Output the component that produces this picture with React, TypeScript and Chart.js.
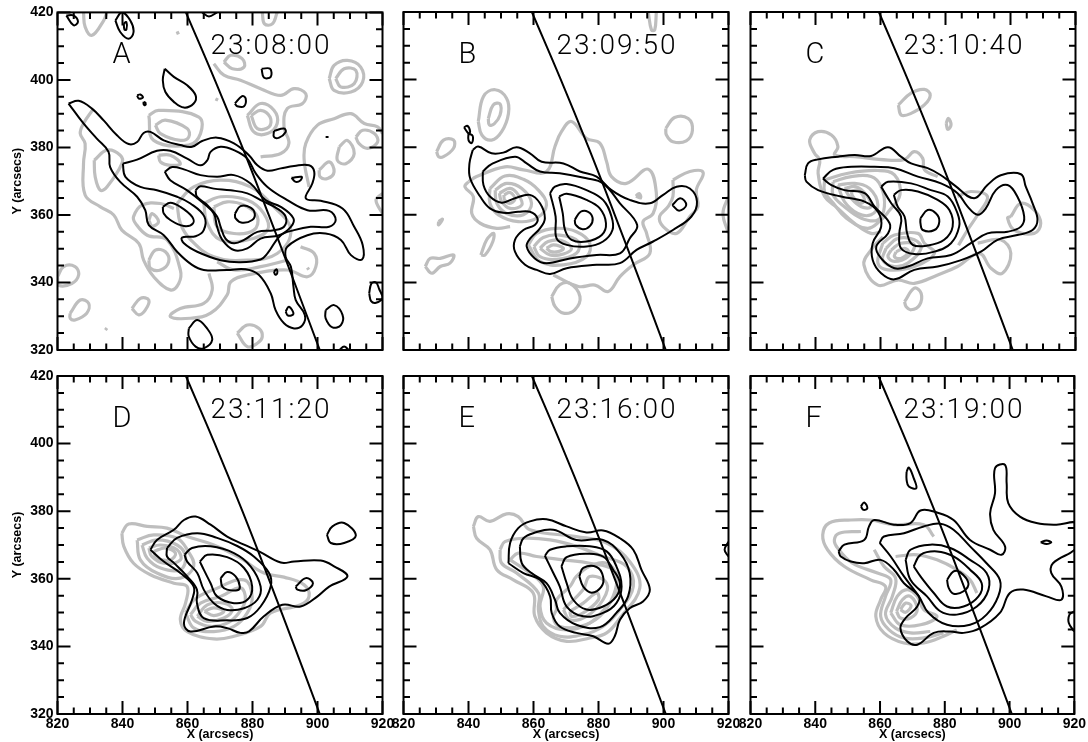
import React, { useEffect, useRef } from "react";
import { Chart, registerables } from "chart.js";

Chart.register(...registerables);

const panelLabels = ["A", "B", "C", "D", "E", "F"];
const panelTimes = ["23:08:00", "23:09:50", "23:10:40", "23:11:20", "23:16:00", "23:19:00"];
const yTickLabels = [320, 340, 360, 380, 400, 420];
const xTickLabels = [820, 840, 860, 880, 900, 920];
const limb = [859.5,420, 868.4,400, 876.9,380, 885,360, 892.9,340, 900.7,320];

const blackA: number[][] = [
  [823.4,393,826.5,393.8,830.6,391.5,834.2,388,838.3,383.6,841.9,381,844.5,381.6,846.5,384.3,848.6,384.6,852.7,382.1,857.8,380.7,861.4,380.2,864.5,381.9,869.1,382.9,874.3,381.2,878.9,377.7,881.5,374.7,884.6,373.1,888.7,373.8,892.8,374.5,897.4,374.7,899,372.8,898.4,369.3,896.4,364.9,901,364.2,907.7,361.9,911.3,356.5,913.9,351.1,913.7,346.8,910.3,348.1,907.2,352.6,902.5,354.5,896.9,354,890.7,350.6,890.2,347.6,891.8,344.7,892.6,338.8,893.3,334.8,896.1,330.4,895.4,327.4,892.8,326.4,889.7,327.9,887.1,331.8,885.6,336.8,882,342.2,877.9,343.9,872.2,343.7,865,343.7,861.4,345.2,856.8,349.1,852.7,354,848.1,357,847,361.4,844.5,365.4,839.3,369.8,836.2,374.2,835.7,378.7,832.1,382.6,828,387.1],
  [840.1,375.2,844.5,376.4,850.6,379,854.7,379,859.9,376.7,864,374.7,866.1,376.2,867.1,378.7,870.2,380.2,874.3,379.2,878.4,376.7,881,372.3,884.6,368.3,890.7,364.4,896.9,361.4,903.6,361.2,905.6,358.5,903.6,356.5,897.9,356.5,892.8,355.5,888.7,354,884.6,348.6,882.5,346.8,876.3,346,870.2,346.6,863,349.1,858.9,351.6,858.3,353.3,862.5,353.7,865,355.5,865.2,359.5,860.9,363.4,856.8,365.4,850.6,367.3,845.5,368.3,840.9,371.3],
  [853,372.8,855.3,374.2,858.9,373.5,864,371.8,869.1,371.3,874.3,371.8,879.4,369.3,884,364.4,888.7,362.4,892.6,359,891.8,356.5,888.2,354,882.5,353,878.4,350.1,874.3,349.6,870.7,352.6,869.1,356.5,868.1,360.4,865,363.4,859.9,367.3,854.7,370.3],
  [862.5,367.3,864,368.5,868.1,367.8,873.3,367.3,878.4,366.4,882.5,364.4,887.6,361.9,890.2,359.5,889.7,356.5,886.6,355.5,881.5,355,877.4,352.6,874.3,351.6,871.7,353,870.2,356.5,869.1,359.5,866.1,362.9,862.9,365.4],
  [874.6,360.4,876.3,362.6,879.4,362.2,880.7,360.4,879.9,358.5,876.8,357.7,874.8,359],
  [852.4,362.4,854.7,363.6,857.8,362.4,861.4,359.5,861.7,357.5,858.9,356.7,854.7,358.5,852.7,360.4],
  [853,403.3,855.8,400.9,859.9,398.4,862.5,395.4,861.9,393,858.9,391.8,855.8,393.5,853.2,396.4,852.4,399.9],
  [882.8,403.3,885.4,403.3,885.6,400.9,883.5,400.7],
  [874.6,393,876.8,395.2,877.9,394.5,877.4,392.2,875.3,392.2],
  [886.6,384.9,889.7,385.6,890.2,384.6,888.2,382.9,886.6,383.1],
  [892,371,895.1,371.3,894.8,370.3,893.3,369.8],
  [886.6,343.2,887.4,343.9,887.6,342.7,887,342.3],
  [890.2,331.4,891.2,332.8,892.6,330.7,890.9,330.2],
  [902.5,331.8,905.1,333.3,907.7,330.4,907.2,327.4,904.6,326.7,902.5,329.4],
  [915.9,336.8,916.6,339.7,918,340,919,338,920,335.5,918,334,916.5,334.5],
  [860.4,326.4,863,328.9,866,326.4,867.6,323,865,320.5,862.5,321,860.4,324],
  [837.8,417.6,839.8,420,842.4,417.6,843.4,414.2,841.9,412.2,839.3,414.2],
  [840.4,416.8,841.2,417.1,841.2,414.9,840.6,414.9],
  [822.7,419.1,824.9,419.1,826.3,417.2,824.9,416.2],
  [844.5,395.4,845.5,395.7,846.3,394.8,845,394.5],
  [846.5,393.5,847.1,393.2,846.9,392.5,846.5,392.8],
];
const blackOpenA: number[][] = [
  [864.5,420,866.6,418.8,869.1,420],
  [906.7,320,908.2,321,909.7,320],
  [902.5,383.1,903.4,383.1],
];
const grayA: number[][] = [
  [848.1,358.5,849.1,360.4,851.1,358,849.1,356.7],
  [848.1,346.6,850.1,349.6,853.2,349.1,854.2,346.1,851.7,343.7,848.6,344.2],
  [831.3,376.2,835.2,379.2,839.3,377.7,839.8,375.2,835.2,368.3,833.2,367.3,831.6,371.3],
  [851.1,377.7,854.7,377.7,857.8,375.2,854.7,374.7,851.7,375.7],
  [848.1,389.5,851.1,391,863.5,389,864,384.1,860.4,380.7,849.6,382.1],
  [850.1,386.6,853.2,388.1,859.9,385.6,860.4,383.1,857.8,382.1,851.7,384.1],
  [820,341.7,821.9,344.7,825.4,344.7,826.5,342.2,824.4,339.7,820.3,339.2],
  [823.9,330.9,827,334.8,829.6,333.8,829,330.9,825.4,328.9,823.9,329.4],
  [842.9,332.3,845.5,335.3,848.1,334.8,847,331.8,845,330.4],
  [834.7,325.9,835.2,326.5],
  [856.8,414.4,857.2,413.5],
  [868.6,394.4,869.4,394],
  [896.9,344.4,897.3,343.8],
  [875.3,325,878.4,327.4,882,326.4,883,323.9,881.5,322,878.4,321],
  [903.6,400.4,905.1,404.3,909.2,405.8,913.3,403.8,913.9,399.4,910.3,396.4,905.1,396.9],
  [905.6,400.4,908.2,403.3,911.8,402.8,911.3,398.9,907.2,397.9],
  [878.4,389.5,882.5,393,886.6,391,887.6,387.1,884.6,384.1,880.4,384.6],
  [879.6,389.5,882.5,391,885.4,389,885.1,386.1,881.5,385.6],
  [871.2,405.3,873.3,407.3,876.8,406.3,877.4,403.8,873.8,403.3],
  [911.8,383.1,913.9,385.1,917.5,384.1,918.5,381.6,915.4,379.7,912.8,381.1],
  [906.7,380.2,909.2,382.1,911.3,378.2,908.7,375.2,906.1,376.2],
  [900.5,373.3,903.6,375.7,905.1,372.8,903.1,370.8,900.8,371.3],
  [856.8,363.4,861.9,368.3,870.2,370.3,879.4,368.3,886.6,362.4,891.8,355.5,887.6,348.6,878.4,346.6,868.1,347.6,861,352.6,857.8,357.5],
  [865,363.4,870.2,365.4,878.4,364.4,883.5,360.4,884.6,355.5,878.4,352.6,870.2,352.6,866.1,357.5],
  [868.1,362.4,872.2,363.9,877.4,362.9,881.5,359.5,880.4,355.5,874.3,354.5,869.1,356.5],
];
const grayOpenA: number[][] = [
  [831.1,391.5,828,387.1,827,384.1,828.5,381.1,828,375.2,828.5,365.9,833.2,362.4,837.3,360,839.8,355.5,845,351.6,846.5,346.6,849.6,341.7,854.7,337.8,857.3,339.7,857.8,343.7,853.7,352.6,847.6,354,844,357.5,843.4,359.5,846,362.9,851.7,363.4,855.8,361.9],
  [866.6,342.7,867.6,337.8,865,333.8,857.8,332.3,854.7,329.9,860.9,329.4,867.1,330.9,872.2,336.3,873.3,340.2,878.4,342.2,890.7,343.7,896.9,341.7,899.5,344.7,899,348.6,894.8,350.6],
  [828,420,828.5,415.7,830.6,413.2,834.2,417.6,835.2,420],
  [883,420,883.7,416.6,886.1,416.6,887.6,420],
  [868.1,404.8,871.2,401.4,876.3,399.9,882.5,397.4,888.7,395.4,892.8,397.4,896.4,395.9,895.4,393,890.7,391.5,889.7,386.1,891.2,381.2,888.7,378.2,882.5,377.2],
  [897.4,368.3,895.9,376.2,896.4,381.2,900,386.6,905.1,388.5,910.3,390,914.4,387.1,918.5,386.1,920,384.1],
  [920,366.4,918,364.4,920,360.4],
  [869.1,346.1,874.3,343.7,882.5,344.7,890.7,346.6],
];

const blackB: number[][] = [
  [841.3,379.2,843,380.2,847.1,378.2,850.7,378.4,854.8,380,858.9,378.2,862.5,375.7,869.2,375.2,874.3,372.8,879.4,371.3,884,367.3,889.6,364.4,895.8,363.4,899.9,365.9,904,368.3,908.1,367.8,910.3,363.9,908.6,359.5,902.9,355.5,896.8,352.1,891.7,349.6,886.6,345.7,879.4,345.2,870.2,344.2,865.1,342.5,861,343.7,857.4,345.2,854.3,349.1,854.3,352.6,856.9,355.5,860.4,357,861.2,359,858.9,360.9,855.3,360.9,850.7,360.6,846.6,361.9,843.6,365.4,840.5,370.8,840.3,375.2],
  [844.4,372.8,847.1,375,854.3,377.2,857.9,375.2,862,372.8,868.1,372.3,876.3,370.8,881.4,369.3,886.6,363.4,891.9,357,889.6,353,886.6,348.6,879.4,348.1,871.2,347.1,864,345.7,860.4,347.1,857.9,350.6,859,353,862,356,863.5,359,862,363.4,858.9,365.9,854.3,364.9,850.2,363.6,846.6,365.4,844.6,368.8],
  [865.1,366.4,866.6,368.3,870.2,369.1,876.3,367.3,881.4,364.4,884,359.5,884.3,355.5,881.4,352.1,876.3,350.6,870.2,351.1,867.1,353,866.8,359.5],
  [867.9,365.4,870.2,366.2,876.3,364.4,880.4,361.9,882.3,357.5,881,354,876.3,352.1,871.7,352.6,869.7,355.5,869,360.4],
  [872.7,358.5,874.5,360.9,876.8,360.9,878.2,359,877.4,356.7,875.1,355.7,873,357],
  [902.7,362.9,905.2,364.9,907,362.9,904.8,361.2],
  [838.6,385.9,839.7,386.3,840.5,384.6,840,384.1],
  [840,384.1,841.3,383.3,841,381.2,840,382.1],
];
const grayB: number[][] = [
  [843,387.6,844.6,395,848.2,397,851.7,394.5,852.3,390,850.2,384.6,847.1,382.1,844.1,383.6],
  [846.1,388.5,847.6,392.5,849.7,392.8,849.7,389.5,847.9,386.9,846.4,386.6],
  [830.2,378.7,832.3,382.1,835.4,382.1,835.4,379.7,832.3,377.2,830.8,377.2],
  [900.7,385.6,903.4,388.8,907.6,388.5,908.9,385,907,381.9,902.9,381.6,900.9,383.6],
  [830.8,358,832,358.7,830.8,357],
  [826.7,344.7,828.2,347.1,831.3,347.1,835.4,348.1,834.3,345.7,831.3,344.7,828.7,342.7],
  [843.8,348.1,845.6,352.6,847.7,354.5,847.5,352.1,845.1,348.1],
  [865.6,335.8,868.1,339.3,871.2,339.7,874.3,335.8,872.7,331.9,869.2,330.9,866.6,332.9],
  [846.6,367.8,851.2,371.5,856.9,370.5,861.5,367.3,864,362.9,861,359,855.3,358,849.2,360,846.6,363.4],
  [848.2,367.3,851.7,369.3,856.4,367.8,859.4,363.4,856.9,360,851.7,360.4,848.7,363.4],
  [849.5,366.4,852.8,367.8,855.3,365.9,856.4,362.9,852.8,361.9,850.2,363.9],
  [850.9,365.9,852.8,366.6,854.3,364.6,852.6,363.4,851.1,364.4],
  [858.4,351.1,861,354.5,867.1,356,873.2,355,877.3,351.6,876.3,347.6,869.2,345.2,862,346.2],
  [860.1,350.6,863,353.3,868.1,354,873.8,352.1,873.2,348.6,867.1,346.8,862,347.6],
  [862,350.1,864.5,352.1,868.6,352.4,871.7,350.1,869.2,348.4,865.1,348.1],
  [864,350.1,866.1,351.1,869.2,350.1,867.6,349.1,865.3,349.1],
  [902.9,370.3,908.1,372.8,912.2,372.5,910.1,367.3,910.6,362.4,908.1,359.5,904,354.5,899.9,356.5,898.8,359.5,901.4,362.4,902.9,365.4],
  [891.5,365.5,892.5,366.3,893,365],
];
const grayOpenB: number[][] = [
  [895.3,420,896.3,414.7,897.3,414.7,897.8,420],
  [920,365.4,918.3,360.4,920,354.5],
  [840,369.8,842.5,371.3,851.2,374.2,856.9,373.3,864,372.8,866.6,380.2,868.6,384.6,871.7,387.6,876.3,382.6,880.4,381.2,882.5,375.7,884,371.3,888.6,369.3,895.3,373.5,897.8,366.4,896.8,360.4,893.7,358,894.8,354.5,895.8,348.6,890.7,345.2,886.6,341.7,883,337.3,878.9,339.2,873.8,338.8,866.1,342.2],
  [852.8,356.5,848.7,356,843.6,357.5,841,360.4,841.5,365.4,838.9,368.3,840,369.8],
];

const blackC: number[][] = [
  [836.7,371.7,837.7,375.2,840.8,376.4,846.9,377.2,852,377.7,857.1,377.4,862.3,380,866.3,377.2,869.4,375.2,874.5,373.8,878.6,371.7,882.7,368.8,888.8,364.9,892.9,368.8,897,371.7,903.2,372,904.7,368.3,906.8,363.4,908.3,358.5,906.8,355.5,902.1,354,896,352.6,890.9,349.1,884.8,346.6,877.6,344.7,870.4,343.7,864.3,340.9,860.2,342.7,857.6,346.6,857.6,351.6,860.2,356.5,859.2,360.9,855.1,363.9,847.9,365.4,840.8,367.3,837.2,369.8],
  [842.3,370.7,845.4,373.3,851,374.2,858.2,374.2,864.3,373.8,871.5,371.3,878.6,369.3,883.7,366.4,886.8,362.4,889.9,360,892.4,361.9,895.5,367.3,899.1,368.8,902.1,365.4,904.2,359.5,903.2,356.5,899.1,355,892.9,354.5,887.8,351.6,881.7,348.1,874.5,347.1,868.4,344.7,864.3,344.2,860.2,347.1,858.7,350.6,862.3,354.5,862.8,357.5,858.2,362.4,855.1,366.4,848.9,367.3,844.9,368.8],
  [860.2,368.3,862.3,369.8,869.4,369.3,875.5,367.3,880.7,365.4,883.7,360.4,884.2,356.5,881.7,351.6,876.6,349.1,870.4,348.4,866.3,350.1,865.8,354.5,866.3,359.5,863.3,363.4],
  [864.1,365.9,866.3,367.3,871.5,366.9,877.6,364.4,881.2,361.4,882.2,356.5,879.6,352.6,874.5,350.9,869.9,351.1,868.2,354.5,867.4,359.5,865.3,362.4],
  [872.3,359,874.5,361.4,877.1,360.4,878.1,358,876.6,355.5,873,355.5,872.3,357.5],
];
const grayC: number[][] = [
  [865.5,392.5,869.4,396,873.5,397.1,875.3,395.4,873.5,392.5,869.4,390,866.4,389.5],
  [880.2,387.1,880.9,388.5,881.7,386.6,880.7,385.3],
  [842.8,370.3,850,372.3,859.2,373.1,864.3,371.8,866,366,862.5,361,860.2,358.5,856,356,849.5,359,845.5,363.4,842.8,366.9],
  [845.4,369.8,851,371.3,857.1,371.3,860.2,368.3,861.2,362.4,859.2,358.5,854.1,359,848.9,362.4,845.4,365.9],
  [846.9,368.8,852,369.3,856.6,367.8,859.2,362.9,857.1,360,853,360.4,848.9,363.9],
  [848.9,367.8,852.5,368.3,855.6,365.9,857.1,362.4,854.1,362.4,850.5,365.4],
  [851,366.9,853,367.3,855.1,364.4,853.6,363.4,851.5,365.4],
  [860.7,351.6,864.3,354,871.5,354.5,873.5,351.6,876.6,348.6,870.4,344.7,862.3,343.7,859.2,345.7],
  [861.7,350.1,865.3,353,870.4,352.6,872.5,350.1,868.4,345.7,864.3,344.7,860.7,346.6],
  [863.3,349.6,866.3,351.6,870.4,351.1,868.4,347.6,864.3,346.2,862.3,347.6],
  [864.8,349.1,867.4,350.1,868.6,349.1,866.3,347.1,864.3,347.6],
  [900.1,359.5,903.2,363.4,907.3,361.4,909.3,357.5,907.3,354.5,901.1,355.5,899.1,359],
  [867.4,334.3,870.4,338.3,872.5,336.8,872,333.3,869.4,331.9,867.9,332.8],
];
const grayOpenC: number[][] = [
  [860.2,355,857.1,354.5,852,357.5,846.9,361.9,842.8,365.4,840.8,372.3,841.3,376.2,839.7,378.2,838.2,382.1,840.8,384.6,844.9,383.6,846.9,380.2,845.9,377.7,852,377.2,862.3,376.2,867.4,376.4,870.4,378.7,873,376.7,873.5,373.3,877.6,371.3],
  [883.7,365.4,887.8,366.9,892.9,365.4,889.9,360,886.8,355.5,884,351],
  [889.9,351.6,897,352.6,900.1,348.6,897.5,342.7,894,344.2,890.4,348.6,883.7,344.7,877.6,342.2,870.4,339.7,865.3,340.7,859.2,339.2,854.9,345.2,857.1,349.6,860.7,353.5],
];

const blackD: number[][] = [
  [848.6,368.6,850.6,371.5,855.8,374.5,858.9,377.4,862.5,378.4,867.1,376,872.2,372.5,877.4,370.1,882,368.1,888.7,364.8,892.8,365.1,901,365.4,905.1,363.7,909.2,360.7,903.6,357.7,900,354.8,894.8,351.8,889.2,352.3,883.5,348.9,878.9,344.4,876.3,344,872.2,345.4,868.1,345.9,860.9,344.4,858.9,346.9,861.4,353.8,861.9,357.7,857.8,361.7,852.7,365.1],
  [853.7,369.1,856.8,372.1,863,373.5,869.1,372.1,875.3,369.7,880.4,366.6,885.1,361.7,885.6,357.7,882.5,351.8,878.4,348.4,872.2,347.7,865,348.4,862.9,352.8,862.9,356.8,859.9,360.7,855.8,364.7,853.7,366.6],
  [859.1,367.1,861.4,369.1,867.1,369.6,874.3,367.6,879.4,363.7,882.5,357.7,881.5,353.8,877.4,351.3,872.2,350.8,868.1,352.8,865,356.8,863,361.7,859.9,365.1],
  [863.8,365.1,866.1,367.1,872.2,366.4,877.4,363.2,879.9,357.7,878.4,353.8,874.3,352.8,869.1,354.8,867.1,358.7,865,362.7],
  [870.2,360.2,872.2,362,874.8,360.7,876.1,357.7,875.3,356.6,872.2,356.8,870.7,357.7],
  [893.3,357.7,896.4,360.2,898.6,358.7,896.4,356.6,893.8,356.8],
  [902.9,373,904.6,375.5,908.2,376.5,911.8,372.8,908.2,370.6,904.1,370.6],
];
const grayD: number[][] = [
  [839.8,373.5,841.9,376.2,847.6,375.5,853.7,375,859.9,372.5,868.1,370,876.3,366.1,883.5,361.7,889.7,360.5,895.9,358.2,897.4,354.8,894.8,352.3,885.6,349.9,882.5,345.9,874.3,343,868.1,342.2,859.9,344.4,857.8,347.9,859.4,352.8,859.9,357.7,855.8,358.7,848.6,361.2,843.4,364.6,840.4,369.6],
  [844.5,371.5,849.6,373,856.8,372,859.9,368.6,861.9,363.7,857.8,360.2,850.6,361.7,845.5,365.6],
  [846,370,850.6,371.5,856.8,370,859.4,366.6,857.8,362.7,851.7,363.2,847.6,366.1],
  [848.1,369.1,851.7,370,856.8,368.6,857.8,365.6,852.7,364.6,849,366.6],
  [849.6,368.1,853.2,369.1,856.3,367.6,854.7,365.6,850.6,366.1],
  [859.4,349.9,862,353.8,868.1,356.8,877.4,359.7,879.9,354.8,878.4,349.9,874.3,345.9,868.1,344.4,862,345.4],
  [860.9,349.4,864,352.8,870.2,354.8,876.3,357.3,877.8,353.8,875.8,349.9,872.2,346.9,867.1,345.9,862.5,347.4],
  [863,348.9,866.1,352.3,871.2,352.8,873.8,350.9,871.2,348.4,866.1,347.4],
  [865.2,350.4,868.1,351.4,871.2,350.4,868.1,349.1],
];

const blackE: number[][] = [
  [852.3,364.6,852.8,370.6,855.3,375,858.9,377,864,377.6,870.2,375.5,876.3,373.7,881.4,374.3,886.6,372,890.7,368.6,893.2,362.7,895.8,356.8,893.7,353.3,889.6,351.3,886.6,347.9,885,343,883,340.8,878.4,343,873.2,344,868.1,345.9,865.6,349.9,865.1,354.8,862,359.7,856.9,361.7],
  [855.8,369.6,856.9,372,859.9,373.5,866.1,374.5,873.2,371.5,881.4,371.5,886.6,367.6,889.6,361.7,889.1,354.8,885.5,349.9,880.4,345.7,873.2,346.4,868.1,349.9,866.6,353.8,864,358.7,859.4,361.7,856.4,364.6],
  [863.5,366.8,865.1,368.6,870.2,369.6,877.3,369.6,882.5,368.1,885.5,363.7,887.1,357.7,885.5,352.8,881.4,349.9,875.3,348.9,870.2,351.8,868.1,357.7,866.1,361.7],
  [868.6,363.7,870.2,366.4,876.3,367.4,881.4,366.6,884.5,362.7,886.6,358.7,885.5,354.8,881.4,351.8,876.3,350.9,872.2,353.8,870.2,358.7],
  [874.1,360.7,875.3,363.2,879.4,363.5,881.4,360.7,880.9,357.7,877.9,355.9,875.3,357.7],
];
const blackOpenE: number[][] = [[920,371,918.8,368.6,920,366.6]];
const grayE: number[][] = [
  [841.5,375.5,843,378.4,846.6,377,851.7,379.2,855.3,378.4,858.9,374.5,873.2,372.5,882.5,370.6,889.6,365.1,892.7,357.3,886.6,348.4,882.5,344,877.3,342.5,870.2,341.5,864,344,860.4,348.9,859.9,355.8,853.8,359.7,848.7,362.7,846.6,368.6,842.5,372],
  [849.7,368.6,851.2,371,856.9,372,865.1,371.5,873.2,369.6,881.4,366.6,888.6,363.7,890.7,357.7,886.6,350.9,881.4,345.9,875.3,343.5,868.1,343,863,345.9,861.5,350.9,861.5,355.8,854.8,361.7,850.2,364.6],
  [852.8,365.6,855.3,367.6,861,366.6,869.2,365.6,877.3,364.6,884.5,362.7,886.6,357.7,882.5,351.8,877.3,346.9,870.2,344.9,864,346.9,862,351.8,863,357.7,858.9,361.7],
  [867.1,350.9,867.1,353.8,871.2,357.7,873.2,360.7,877.3,363.7,882.5,364.6,885.5,360.7,884.5,354.8,880.4,348.9,874.3,345.9,868.1,345.9,866.1,348.4],
  [869.2,350.9,875.3,356.8,877.3,360.7,882.5,358.7,881.4,353.8,876.3,348.9,871.2,347.9],
  [871.2,350.4,875.3,352.8,879.4,355.8,880,353.8,875.3,349.9,871.7,348.9],
];

const blackF: number[][] = [
  [847.2,368.1,849,370.1,855.1,371.5,856.6,375.5,858.2,377.4,864.3,376,869.4,376.5,872.5,380.2,877.6,379.6,882.7,377.4,887.8,371.5,894,368.6,897.5,367.1,898.6,369.6,895,374.5,894,379.4,895.5,385.3,895.5,392.7,898.6,393.7,899.1,388.3,899.6,382.4,903.2,378.4,908.3,376.5,914.4,376,921,376.3,921,369.6,913.4,364.6,912.9,361.7,916,357.7,916,353.8,911.4,354.8,904.2,356.8,900.1,355.8,897,349.9,890.9,345.4,885.8,344,881.7,344.4,876.6,344,871.5,340.5,868.4,341.5,866.3,345.4,867.9,348.4,871.5,351.8,872,354.8,867.4,358.7,864.3,362.7,860.2,365.6,855.1,364.6,851,365.1,847.9,366.6],
  [859.9,370.6,863.3,366.6,867.4,360.7,872,354.8,875,349.9,880.7,346.4,887.8,346.4,892.9,349.4,896.5,354.8,897,359.7,892.9,364.6,887.8,369.6,882.7,374.5,878.6,376.3,873.5,375.5,867.4,373.5,861.2,372.5],
  [867.9,365.6,869.4,368.6,875.5,370.1,881.7,369.1,887.8,365.6,892.9,361.7,893.5,356.8,889.9,351.8,883.7,349.4,878.6,350.4,874.5,354.8,869.4,359.7],
  [870.4,363.7,872.5,367.1,877.6,368.1,882.7,366.6,887.8,362.7,891.4,358.7,890.4,354.8,885.8,351.8,880.7,351.8,876.6,355.8,872.5,360.7],
  [880.7,359.7,882.7,362.2,884.8,361.9,887.3,358.7,885.8,356.3,882.7,355.6,881.2,357.3],
  [868.2,391.7,868.9,392.9,870.4,389.8,871.2,386.8,868.9,387.3,868.2,389.3],
  [854.1,381.4,855.1,382.6,856.1,380.9,854.9,380.4],
  [909.6,370.8,911.4,371.3,912.9,370.8,911.4,370.3],
];
const blackOpenF: number[][] = [[920,350.4,918.5,349.4,918.3,346.9,920,344.4]];
const grayF: number[][] = [
  [863.3,349.9,865.3,354.8,868.4,356.8,871.5,354.8,873.5,350.9,877.6,348.9,872.5,346.4,866.3,346.4],
  [865.1,350.4,866.9,353.8,869.4,354.8,871.5,350.9,869.4,348.4,866.3,348.4],
  [866.3,350.9,867.9,352.8,869.6,352,867.9,350.1],
];
const grayOpenF: number[][] = [
  [876.6,372.5,873.5,376,864.3,376,857.1,377.4,851,377.4,844.3,376.5,842.3,373,843.8,368.6,848.9,363.7,857.1,359.7,861.7,357.7,860.2,353.8,858.7,348.9,861.2,344,867.4,341,873.5,341,879.6,343,883.7,344.9],
  [854.1,374,847.4,373.5,845.9,371.5,846.9,369.1,851.5,364.6,859.2,361.7,863.3,359.7,861.7,354.8,860.2,348.9,862.8,344.9,867.4,342.5,873.5,342.5,879.6,344],
  [858.2,368.6,861.2,363.7,864.8,360.2,863.8,354.8,861.7,349.4,864.8,345.4,869.4,344,875.5,344.4],
  [864.8,366.6,871.5,367.1,877.6,365.6,883.7,362.7,887.8,359.7,889.9,355.8],
];

const blackSets = [blackA, blackB, blackC, blackD, blackE, blackF];
const blackOpenSets = [blackOpenA, [], [], [], blackOpenE, blackOpenF];
const graySets = [grayA, grayB, grayC, grayD, grayE, grayF];
const grayOpenSets = [grayOpenA, grayOpenB, grayOpenC, [], [], grayOpenF];

const CANVAS_W = 1088;
const CANVAS_H = 742;
const GRAY = "#bebebe";
const colLefts = [57.5, 403.5, 750.5];
const PLOT_W = 325;
const rowTops = [12, 376];
const PLOT_H = 338;
const AXIS_W = 47;
const AXIS_H = 28;

const pts = (a: number[]) => {
  const out: { x: number; y: number }[] = [];
  for (let i = 0; i < a.length; i += 2) out.push({ x: a[i], y: a[i + 1] });
  return out;
};
const closed = (a: number[]) => pts([...a, a[0], a[1]]);

const framePlugin = {
  id: "frameTicks",
  afterDatasetsDraw(chart: any, _a: any, opts: any) {
    const { ctx, chartArea: c, scales } = chart;
    ctx.save();
    ctx.strokeStyle = "#000";
    ctx.lineWidth = 2;
    ctx.strokeRect(c.left, c.top, c.width, c.height);
    ctx.beginPath();
    for (const t of scales.x.ticks) {
      const p = scales.x.getPixelForValue(t.value);
      const len = t.value % 20 === 0 ? 13 : 6.5;
      ctx.moveTo(p, c.top); ctx.lineTo(p, c.top + len);
      ctx.moveTo(p, c.bottom); ctx.lineTo(p, c.bottom - len);
    }
    for (const t of scales.y.ticks) {
      const p = scales.y.getPixelForValue(t.value);
      const len = t.value % 20 === 0 ? 13 : 6.5;
      ctx.moveTo(c.left, p); ctx.lineTo(c.left + len, p);
      ctx.moveTo(c.right, p); ctx.lineTo(c.right - len, p);
    }
    ctx.stroke();
    ctx.fillStyle = "#000";
    ctx.textBaseline = "alphabetic";
    ctx.textAlign = "left";
    ctx.font = '300 28px Roboto';
    (ctx as any).letterSpacing = "2px";
    ctx.fillText(opts.time, c.left + 153, c.top + 42);
    (ctx as any).letterSpacing = "0px";
    ctx.font = '300 29px Roboto';
    ctx.fillText(opts.letter, c.left + 55, c.top + 51);
    ctx.restore();
  },
};

function makeChart(canvas: HTMLCanvasElement, i: number) {
  const col = i % 3;
  const row = i < 3 ? 0 : 1;
  const showY = col === 0;
  const showX = row === 1;
  const line = (data: any[], color: string, width: number, tension = 0.4) => ({
    data,
    borderColor: color,
    borderWidth: width,
    pointRadius: 0,
    showLine: true,
    fill: false,
    tension,
  });
  const datasets = [
    line(pts(limb), "#000", 2),
    ...blackSets[i].map((a) => line(closed(a), "#000", 2)),
    ...blackOpenSets[i].map((a) => line(pts(a), "#000", 2)),
    ...graySets[i].map((a) => line(closed(a), GRAY, 3.2)),
    ...grayOpenSets[i].map((a) => line(pts(a), GRAY, 3.2)),
  ];
  const tickFont = { family: '"Liberation Sans"', size: 14, weight: "bold" as const };
  const titleFont = { family: '"Liberation Sans"', size: 12.5, weight: "bold" as const };
  return new Chart(canvas, {
    type: "scatter",
    data: { datasets },
    plugins: [framePlugin],
    options: {
      animation: false,
      responsive: false,
      layout: {
        padding: {
          left: colLefts[col] - (showY ? AXIS_W : 0),
          right: CANVAS_W - colLefts[col] - PLOT_W,
          top: rowTops[row],
          bottom: CANVAS_H - rowTops[row] - PLOT_H - (showX ? AXIS_H : 0),
        },
      },
      plugins: {
        legend: { display: false },
        tooltip: { enabled: false },
        frameTicks: { time: panelTimes[i], letter: panelLabels[i] },
      } as any,
      scales: {
        x: {
          type: "linear",
          min: 820,
          max: 920,
          grid: { display: false, drawTicks: false },
          border: { display: false },
          afterFit: (s: any) => { s.height = showX ? AXIS_H : 0; },
          title: { display: showX, text: "X (arcsecs)", color: "#000", font: titleFont, padding: 0 },
          ticks: {
            display: showX,
            stepSize: 5,
            autoSkip: false,
            maxRotation: 0,
            padding: 2,
            color: "#000",
            font: tickFont,
            callback: (v: any) => (xTickLabels.includes(v) ? String(v) : ""),
          },
        },
        y: {
          type: "linear",
          min: 320,
          max: 420,
          grid: { display: false, drawTicks: false },
          border: { display: false },
          afterFit: (s: any) => { s.width = showY ? AXIS_W : 0; },
          title: { display: showY, text: "Y (arcsecs)", color: "#000", font: titleFont, padding: 0 },
          ticks: {
            display: showY,
            stepSize: 5,
            autoSkip: false,
            padding: 4,
            color: "#000",
            font: tickFont,
            callback: (v: any) => (yTickLabels.includes(v) ? String(v) : ""),
          },
        },
      },
    },
  });
}

export default function App() {
  const refs = useRef<(HTMLCanvasElement | null)[]>([]);
  useEffect(() => {
    const charts = refs.current.map((c, i) => makeChart(c as HTMLCanvasElement, i));
    return () => charts.forEach((c) => c.destroy());
  }, []);
  return (
    <div style={{ position: "absolute", left: 0, top: 0, width: CANVAS_W, height: CANVAS_H, background: "#fff", overflow: "hidden" }}>
      {panelLabels.map((l, i) => (
        <canvas
          key={l}
          ref={(el) => { refs.current[i] = el; }}
          width={CANVAS_W}
          height={CANVAS_H}
          style={{ position: "absolute", left: 0, top: 0, width: CANVAS_W, height: CANVAS_H }}
        />
      ))}
    </div>
  );
}
